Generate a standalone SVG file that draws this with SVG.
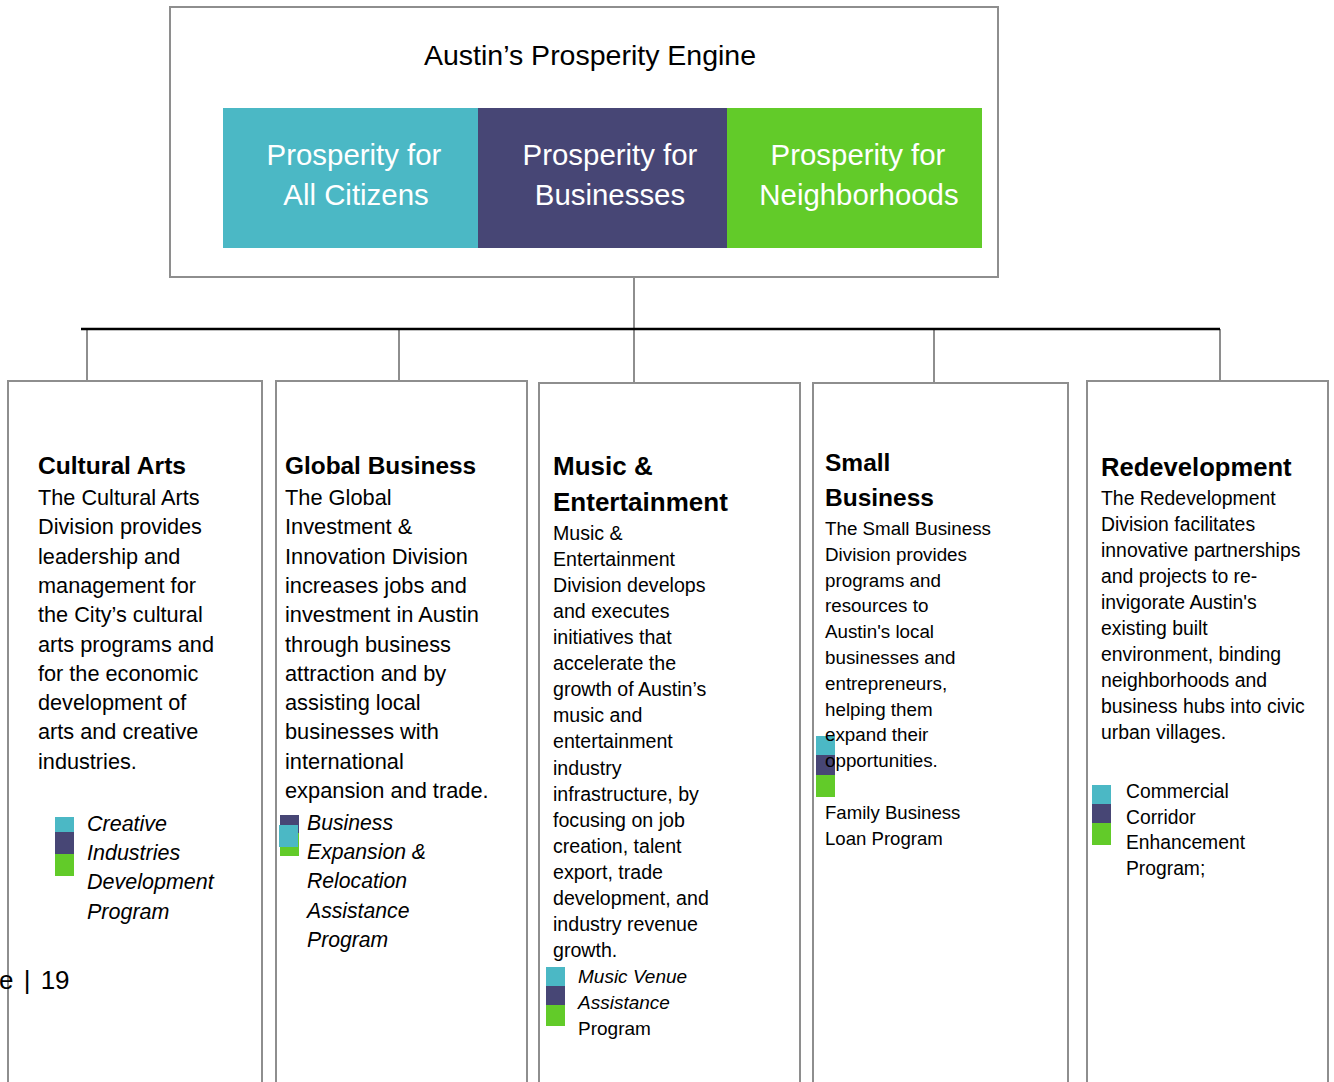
<svg xmlns="http://www.w3.org/2000/svg" width="1334" height="1082" viewBox="0 0 1334 1082">
<style>
.box{fill:#fff;stroke:#8e8e8e;stroke-width:2}
.t{font-family:"Liberation Sans",Arial,sans-serif;fill:#000}
.h{font-weight:bold}
.w{fill:#fff}
.i{font-style:italic}
.conn line{stroke:#8e8e8e;stroke-width:2}
.teal{fill:#4BB8C5}.purp{fill:#474675}.grn{fill:#62CB29}
</style>
<rect width="1334" height="1082" fill="#fff"/>
<g id="connectors" class="conn">
<line x1="634" y1="277" x2="634" y2="383" stroke-width="1.5"/>
<line x1="87" y1="329" x2="87" y2="381"/>
<line x1="399" y1="329" x2="399" y2="381"/>
<line x1="934" y1="329" x2="934" y2="383"/>
<line x1="1220" y1="329" x2="1220" y2="381"/>
<line x1="81" y1="329" x2="1220" y2="329" style="stroke:#000;stroke-width:2.5"/>
</g>
<g id="top">
<rect class="box" x="170" y="7" width="828" height="270"/>
<text class="t" x="590" y="65" font-size="28.5" text-anchor="middle">Austin’s Prosperity Engine</text>
<rect class="teal" x="223" y="108" width="255" height="140"/>
<rect class="purp" x="478" y="108" width="249" height="140"/>
<rect class="grn" x="727" y="108" width="255" height="140"/>
<text class="t w" font-size="29.4" text-anchor="middle"><tspan x="354" y="164.5">Prosperity for</tspan><tspan x="356" y="204.5">All Citizens</tspan></text>
<text class="t w" font-size="29.4" text-anchor="middle"><tspan x="610" y="164.5">Prosperity for</tspan><tspan x="610" y="204.5">Businesses</tspan></text>
<text class="t w" font-size="29.4" text-anchor="middle"><tspan x="858" y="164.5">Prosperity for</tspan><tspan x="859" y="204.5">Neighborhoods</tspan></text>
</g>
<g id="cultural-arts">
<rect class="box" x="8" y="381" width="254" height="720"/>
<text class="t h" x="38" y="474" font-size="24.6">Cultural Arts</text>
<text class="t" font-size="21.7"><tspan x="38" y="505">The Cultural Arts</tspan><tspan x="38" dy="29.3">Division provides</tspan><tspan x="38" dy="29.3">leadership and</tspan><tspan x="38" dy="29.3">management for</tspan><tspan x="38" dy="29.3">the City’s cultural</tspan><tspan x="38" dy="29.3">arts programs and</tspan><tspan x="38" dy="29.3">for the economic</tspan><tspan x="38" dy="29.3">development of</tspan><tspan x="38" dy="29.3">arts and creative</tspan><tspan x="38" dy="29.3">industries.</tspan></text>
<rect class="teal" x="55" y="817" width="19" height="15"/>
<rect class="purp" x="55" y="832" width="19" height="22"/>
<rect class="grn" x="55" y="854" width="19" height="22"/>
<text class="t i" font-size="21.5"><tspan x="87" y="831">Creative</tspan><tspan x="87" dy="29.2">Industries</tspan><tspan x="87" dy="29.2">Development</tspan><tspan x="87" dy="29.2">Program</tspan></text>
</g>
<g id="global-business">
<rect class="box" x="276" y="381" width="251" height="720"/>
<text class="t h" x="285" y="474" font-size="24.4">Global Business</text>
<text class="t" font-size="21.8"><tspan x="285" y="505">The Global</tspan><tspan x="285" dy="29.3">Investment &amp;</tspan><tspan x="285" dy="29.3">Innovation Division</tspan><tspan x="285" dy="29.3">increases jobs and</tspan><tspan x="285" dy="29.3">investment in Austin</tspan><tspan x="285" dy="29.3">through business</tspan><tspan x="285" dy="29.3">attraction and by</tspan><tspan x="285" dy="29.3">assisting local</tspan><tspan x="285" dy="29.3">businesses with</tspan><tspan x="285" dy="29.3">international</tspan><tspan x="285" dy="29.3">expansion and trade.</tspan></text>
<rect class="purp" x="280" y="815" width="19" height="18"/>
<rect class="grn" x="280" y="833" width="19" height="23"/>
<rect class="teal" x="279" y="825" width="19" height="22"/>
<text class="t i" font-size="21.2"><tspan x="307" y="830">Business</tspan><tspan x="307" dy="29.2">Expansion &amp;</tspan><tspan x="307" dy="29.2">Relocation</tspan><tspan x="307" dy="29.2">Assistance</tspan><tspan x="307" dy="29.2">Program</tspan></text>
</g>
<g id="music-entertainment">
<rect class="box" x="539" y="383" width="261" height="720"/>
<text class="t h" font-size="26"><tspan x="553" y="475">Music &amp;</tspan><tspan x="553" y="511">Entertainment</tspan></text>
<text class="t" font-size="19.6"><tspan x="553" y="540">Music &amp;</tspan><tspan x="553" dy="26.06">Entertainment</tspan><tspan x="553" dy="26.06">Division develops</tspan><tspan x="553" dy="26.06">and executes</tspan><tspan x="553" dy="26.06">initiatives that</tspan><tspan x="553" dy="26.06">accelerate the</tspan><tspan x="553" dy="26.06">growth of Austin’s</tspan><tspan x="553" dy="26.06">music and</tspan><tspan x="553" dy="26.06">entertainment</tspan><tspan x="553" dy="26.06">industry</tspan><tspan x="553" dy="26.06">infrastructure, by</tspan><tspan x="553" dy="26.06">focusing on job</tspan><tspan x="553" dy="26.06">creation, talent</tspan><tspan x="553" dy="26.06">export, trade</tspan><tspan x="553" dy="26.06">development, and</tspan><tspan x="553" dy="26.06">industry revenue</tspan><tspan x="553" dy="26.06">growth.</tspan></text>
<rect class="teal" x="546" y="967" width="19" height="19"/>
<rect class="purp" x="546" y="986" width="19" height="19"/>
<rect class="grn" x="546" y="1005" width="19" height="21"/>
<text class="t i" font-size="19"><tspan x="578" y="983">Music Venue</tspan><tspan x="578" y="1009">Assistance</tspan></text>
<text class="t" x="578" y="1035" font-size="19">Program</text>
</g>
<g id="small-business">
<rect class="box" x="813" y="383" width="255" height="720"/>
<rect class="teal" x="816" y="736" width="19" height="19"/>
<rect class="purp" x="816" y="755" width="19" height="20"/>
<rect class="grn" x="816" y="775" width="19" height="22"/>
<text class="t h" font-size="24.5"><tspan x="825" y="471">Small</tspan><tspan x="825" y="506">Business</tspan></text>
<text class="t" font-size="18.8"><tspan x="825" y="535">The Small Business</tspan><tspan x="825" dy="25.8">Division provides</tspan><tspan x="825" dy="25.8">programs and</tspan><tspan x="825" dy="25.8">resources to</tspan><tspan x="825" dy="25.8">Austin's local</tspan><tspan x="825" dy="25.8">businesses and</tspan><tspan x="825" dy="25.8">entrepreneurs,</tspan><tspan x="825" dy="25.8">helping them</tspan><tspan x="825" dy="25.8">expand their</tspan><tspan x="825" dy="25.8">opportunities.</tspan></text>
<text class="t" font-size="18.6"><tspan x="825" y="819">Family Business</tspan><tspan x="825" y="845">Loan Program</tspan></text>
</g>
<g id="redevelopment">
<rect class="box" x="1087" y="381" width="241" height="720"/>
<text class="t h" x="1101" y="476" font-size="25.6">Redevelopment</text>
<text class="t" font-size="19.4"><tspan x="1101" y="505">The Redevelopment</tspan><tspan x="1101" dy="26">Division facilitates</tspan><tspan x="1101" dy="26">innovative partnerships</tspan><tspan x="1101" dy="26">and projects to re-</tspan><tspan x="1101" dy="26">invigorate Austin's</tspan><tspan x="1101" dy="26">existing built</tspan><tspan x="1101" dy="26">environment, binding</tspan><tspan x="1101" dy="26">neighborhoods and</tspan><tspan x="1101" dy="26">business hubs into civic</tspan><tspan x="1101" dy="26">urban villages.</tspan></text>
<rect class="teal" x="1092" y="785" width="19" height="19"/>
<rect class="purp" x="1092" y="804" width="19" height="19"/>
<rect class="grn" x="1092" y="823" width="19" height="22"/>
<text class="t" font-size="19.3"><tspan x="1126" y="798">Commercial</tspan><tspan x="1126" dy="25.7">Corridor</tspan><tspan x="1126" dy="25.7">Enhancement</tspan><tspan x="1126" dy="25.7">Program;</tspan></text>
</g>
<text class="t" x="-1" y="989" font-size="26" word-spacing="3">e | 19</text>
</svg>
